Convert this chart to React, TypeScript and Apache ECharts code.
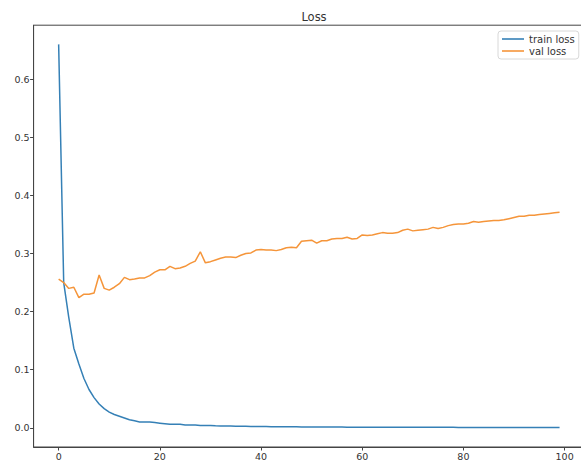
import React, { useEffect, useRef } from "react";
import * as echarts from "echarts";

const epochs: number[] = Array.from({ length: 100 }, (_, i) => i);

const trainLoss: number[] = [
  0.66, 0.25, 0.19, 0.137, 0.11, 0.085, 0.066, 0.052, 0.041, 0.033,
  0.027, 0.023, 0.02, 0.017, 0.014, 0.012, 0.01, 0.01, 0.01, 0.009,
  0.008, 0.007, 0.006, 0.006, 0.006, 0.005, 0.005, 0.005, 0.004, 0.004,
  0.004, 0.0035, 0.0033, 0.003, 0.003, 0.0028, 0.0026, 0.0025, 0.0024, 0.0023,
  0.0022, 0.0021, 0.002, 0.002, 0.0019, 0.0018, 0.0018, 0.0017, 0.0016, 0.0016,
  0.0015, 0.0015, 0.0014, 0.0014, 0.0013, 0.0013, 0.0013, 0.0012, 0.0012, 0.0012,
  0.0011, 0.0011, 0.0011, 0.001, 0.001, 0.001, 0.001, 0.001, 0.0009, 0.0009,
  0.0009, 0.0009, 0.0009, 0.0008, 0.0008, 0.0008, 0.0008, 0.0008, 0.0008, 0.0007,
  0.0007, 0.0007, 0.0007, 0.0007, 0.0007, 0.0007, 0.0006, 0.0006, 0.0006, 0.0006,
  0.0006, 0.0006, 0.0006, 0.0006, 0.0005, 0.0005, 0.0005, 0.0005, 0.0005, 0.0005,
];

const valLoss: number[] = [
  0.256, 0.25, 0.24, 0.242, 0.224, 0.23, 0.23, 0.232, 0.263, 0.24,
  0.237, 0.242, 0.248, 0.259, 0.255, 0.256, 0.258, 0.258, 0.262, 0.268,
  0.272, 0.272, 0.278, 0.274, 0.275, 0.278, 0.283, 0.287, 0.303, 0.284,
  0.286, 0.289, 0.292, 0.294, 0.294, 0.293, 0.297, 0.3, 0.301, 0.306,
  0.307, 0.306, 0.306, 0.305, 0.307, 0.31, 0.311, 0.31, 0.321, 0.322,
  0.323, 0.318, 0.322, 0.322, 0.325, 0.326, 0.326, 0.328, 0.325, 0.326,
  0.332, 0.331, 0.332, 0.334, 0.336, 0.335, 0.335, 0.336, 0.34, 0.342,
  0.339, 0.34, 0.341, 0.342, 0.345, 0.343, 0.345, 0.348, 0.35, 0.351,
  0.351, 0.352, 0.355, 0.354, 0.355, 0.356, 0.357, 0.357, 0.358, 0.36,
  0.362, 0.364, 0.364, 0.366, 0.366, 0.367, 0.368, 0.369, 0.37, 0.371,
];

const xTicks: number[] = [0, 20, 40, 60, 80, 100];
const yTicks: number[] = [0, 0.1, 0.2, 0.3, 0.4, 0.5, 0.6];

const FONT = "DejaVu Sans";

export default function App() {
  const ref = useRef<HTMLDivElement>(null);

  useEffect(() => {
    if (!ref.current) return;
    const chart = echarts.init(ref.current, undefined, { renderer: "svg" });
    chart.setOption({
      animation: false,
      backgroundColor: "#ffffff",
      title: {
        text: "Loss",
        left: 309,
        textAlign: "center",
        top: 6,
        textStyle: { fontFamily: FONT, fontSize: 11.5, fontWeight: "normal", color: "#333" },
      },
      legend: {
        data: ["train loss", "val loss"],
        orient: "vertical",
        left: 498,
        top: 31,
        icon: "rect",
        itemWidth: 22,
        itemHeight: 1.6,
        itemGap: 2,
        padding: [3, 4, 3, 4],
        borderColor: "#d8d8d8",
        borderWidth: 1,
        borderRadius: 3,
        backgroundColor: "#ffffff",
        textStyle: { fontFamily: FONT, fontSize: 10, color: "#333" },
      },
      grid: {
        left: 33.6,
        top: 25.2,
        width: 551,
        height: 421.8,
        show: true,
        borderColor: "#444",
        borderWidth: 1,
        containLabel: false,
      },
      xAxis: {
        type: "value",
        min: -4.95,
        max: 103.95,
        splitLine: { show: false },
        axisLine: { show: true, onZero: false, lineStyle: { color: "#444", width: 1 } },
        axisTick: { show: true, length: 3.5, customValues: xTicks, lineStyle: { color: "#444" } },
        axisLabel: {
          customValues: xTicks,
          fontFamily: FONT,
          fontSize: 9.5,
          color: "#333",
          margin: 4,
          formatter: (v: number) => String(Math.round(v)),
        },
      },
      yAxis: {
        type: "value",
        min: -0.033,
        max: 0.693,
        splitLine: { show: false },
        axisLine: { show: true, onZero: false, lineStyle: { color: "#444", width: 1 } },
        axisTick: { show: true, length: 3.5, customValues: yTicks, lineStyle: { color: "#444" } },
        axisLabel: {
          customValues: yTicks,
          fontFamily: FONT,
          fontSize: 9.5,
          color: "#333",
          margin: 4,
          formatter: (v: number) => v.toFixed(1),
        },
      },
      series: [
        {
          name: "train loss",
          type: "line",
          showSymbol: false,
          data: epochs.map((e, i) => [e, trainLoss[i]]),
          lineStyle: { color: "#3580b6", width: 1.5 },
          itemStyle: { color: "#3580b6" },
        },
        {
          name: "val loss",
          type: "line",
          showSymbol: false,
          data: epochs.map((e, i) => [e, valLoss[i]]),
          lineStyle: { color: "#f5953a", width: 1.5 },
          itemStyle: { color: "#f5953a" },
        },
      ],
    });
    return () => chart.dispose();
  }, []);

  return (
    <div style={{ position: "fixed", left: 0, top: 0, width: 581, height: 462, overflow: "hidden", background: "#fff" }}>
      <div ref={ref} style={{ width: 600, height: 462 }} />
    </div>
  );
}
